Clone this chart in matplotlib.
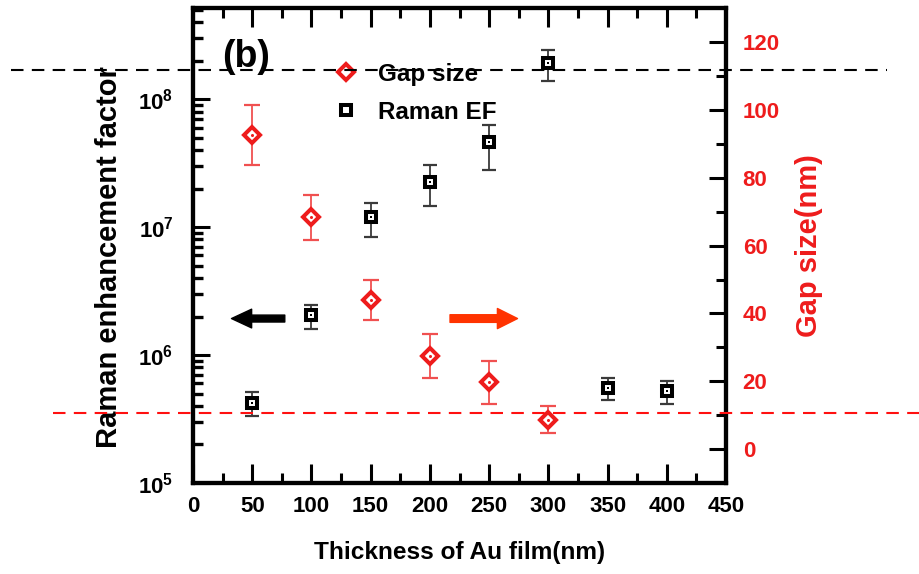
import matplotlib
matplotlib.use("Agg")
import matplotlib.pyplot as plt
from matplotlib import font_manager
from matplotlib.lines import Line2D
from matplotlib.ticker import FixedLocator, MultipleLocator, LogLocator, NullFormatter, FuncFormatter
import numpy as np

# ---- data -------------------------------------------------------------
thickness = [50, 100, 150, 200, 250, 300, 350, 400]
raman_ef = [4.25e5, 2.06e6, 1.19e7, 2.27e7, 4.61e7, 1.91e8, 5.56e5, 5.24e5]
raman_ef_low = [3.34e5, 1.60e6, 8.43e6, 1.47e7, 2.80e7, 1.39e8, 4.46e5, 4.15e5]
raman_ef_high = [5.17e5, 2.47e6, 1.54e7, 3.06e7, 6.30e7, 2.43e8, 6.65e5, 6.27e5]

gap_thickness = [50, 100, 150, 200, 250, 300]
gap_size = [92.6, 68.4, 44.1, 27.4, 19.7, 8.7]
gap_err = [8.8, 6.6, 5.9, 6.4, 6.4, 4.1]

x_ticks = [0, 50, 100, 150, 200, 250, 300, 350, 400, 450]
gap_ticks = [0, 20, 40, 60, 80, 100, 120]
ef_decades = [1e5, 1e6, 1e7, 1e8]

# ---- fonts ------------------------------------------------------------
installed = {f.name for f in font_manager.fontManager.ttflist}
REG = "Liberation Sans" if "Liberation Sans" in installed else "DejaVu Sans"
NARROW = "Liberation Sans Narrow" if "Liberation Sans Narrow" in installed else REG
plt.rcParams["font.family"] = [NARROW]
plt.rcParams["font.weight"] = "bold"
plt.rcParams["mathtext.fontset"] = "custom"
plt.rcParams["mathtext.rm"] = f"{NARROW}:bold"
plt.rcParams["mathtext.bf"] = f"{NARROW}:bold"
plt.rcParams["mathtext.default"] = "bf"

RED = "#EE1C1C"
RED_BAR = "#F05050"
BLACK_BAR = "#3a3a3a"

W, H = 919, 574
fig = plt.figure(figsize=(W / 100, H / 100), dpi=100)
ax = fig.add_axes([193 / W, (H - 483) / H, (726 - 193) / W, (483 - 8.3) / H])
ax2 = ax.twinx()

for a in (ax, ax2):
    for s in a.spines.values():
        s.set_linewidth(3.0)

# ---- x axis ----------------------------------------------------------
ax.set_xlim(0, 450)
ax.xaxis.set_major_locator(FixedLocator(x_ticks))
ax.xaxis.set_minor_locator(MultipleLocator(25))
ax.tick_params(axis="x", which="major", direction="in", length=13.5, width=2.2,
               top=True, bottom=True, labelsize=16, pad=9)
ax.tick_params(axis="x", which="minor", direction="in", length=7, width=2.2,
               top=True, bottom=True)
ax.set_xlabel("Thickness of Au film(nm)", fontsize=17.6, family=REG,
              fontweight="bold", labelpad=18)

# ---- left (log) axis --------------------------------------------------
ax.set_yscale("log")
ax.set_ylim(1e5, 10 ** 8.71)
ax.yaxis.set_major_locator(FixedLocator(ef_decades))
ax.yaxis.set_minor_locator(LogLocator(base=10, subs=np.arange(2, 10)))
ax.yaxis.set_minor_formatter(NullFormatter())
ax.yaxis.set_major_formatter(FuncFormatter(lambda v, p: r"$10^{%d}$" % round(np.log10(v))))
ax.tick_params(axis="y", which="major", direction="in", length=12.5, width=2.2,
               left=True, right=False, labelsize=16, pad=14)
ax.tick_params(axis="y", which="minor", direction="in", length=7.5, width=2.4,
               left=True, right=False)
ax.set_ylabel("Raman enhancement factor", fontsize=21, family=REG,
              fontweight="bold")
ax.yaxis.set_label_coords(-0.131, 0.476)

# ---- right (gap size) axis -------------------------------------------
ax2.set_ylim(-10, 130)
ax2.yaxis.set_major_locator(FixedLocator(gap_ticks))
ax2.yaxis.set_minor_locator(FixedLocator([10, 30, 50, 70, 90, 110]))
ax2.tick_params(axis="y", which="major", direction="in", length=12.5, width=2.2,
                right=True, left=False, labelsize=16, labelcolor=RED, pad=12)
ax2.tick_params(axis="y", which="minor", direction="in", length=7, width=2.2,
                right=True, left=False)
ax2.set_ylabel("Gap size(nm)", fontsize=21, family=REG, fontweight="bold",
               color=RED, labelpad=11)

# ---- Raman EF (left axis) --------------------------------------------
ef = np.array(raman_ef)
ef_err = [ef - np.array(raman_ef_low), np.array(raman_ef_high) - ef]
ax.errorbar(thickness, ef, yerr=ef_err, fmt="none", ecolor=BLACK_BAR,
            elinewidth=1.3, capsize=5, capthick=1.6, zorder=2)
ax.plot(thickness, ef, ls="none", marker="s", ms=7.5, mew=2.9, mec="black",
        mfc="white", zorder=3, label="Raman EF")
ax.plot(thickness, ef, ls="none", marker="s", ms=1.8, mew=0, mfc="black", zorder=4)

# ---- gap size (right axis) -------------------------------------------
ax2.errorbar(gap_thickness, gap_size, yerr=gap_err, fmt="none", ecolor=RED_BAR,
             elinewidth=1.3, capsize=6, capthick=1.6, zorder=2)
ax2.plot(gap_thickness, gap_size, ls="none", marker="D", ms=8, mew=2.9, mec=RED,
         mfc="white", zorder=3, label="Gap size")
ax2.plot(gap_thickness, gap_size, ls="none", marker="o", ms=2.2, mew=0, mfc=RED, zorder=4)

# ---- direction arrows -------------------------------------------------
ax2.annotate("", xy=(32.5, 38.5), xytext=(77.5, 38.5),
             arrowprops=dict(arrowstyle="simple,head_length=1.45,head_width=1.35,tail_width=0.5",
                             mutation_scale=10, color="black", shrinkA=0, shrinkB=0))
ax2.annotate("", xy=(274, 38.5), xytext=(217, 38.5),
             arrowprops=dict(arrowstyle="simple,head_length=1.45,head_width=1.45,tail_width=0.55",
                             mutation_scale=10, color="#FF3300", shrinkA=0, shrinkB=0))

# ---- panel tag and legend --------------------------------------------
ax.text(0.055, 0.936, "(b)", transform=ax.transAxes, fontsize=27, family=REG,
        fontweight="bold", ha="left", va="top")

h_gap = Line2D([], [], ls="none", marker="D", ms=8, mew=2.9, mec=RED, mfc="white")
h_ef = Line2D([], [], ls="none", marker="s", ms=7, mew=2.9, mec="black", mfc="white")
ax2.legend([h_gap, h_ef], ["Gap size", "Raman EF"], loc="upper left",
           bbox_to_anchor=(334 / W, 1 - 63 / H), bbox_transform=fig.transFigure,
           frameon=False, handlelength=1.0, handletextpad=0.8, borderpad=0,
           borderaxespad=0, labelspacing=0.6,
           prop={"family": REG, "weight": "bold", "size": 17.5})

# ---- horizontal dashed guide lines across the figure -----------------
fig.add_artist(Line2D([11 / W, 887 / W], [1 - 70 / H, 1 - 70 / H], transform=fig.transFigure,
                      color="black", lw=1.5, ls=(0, (6, 4)), zorder=10))
fig.add_artist(Line2D([53 / W, 1.0], [1 - 413 / H, 1 - 413 / H], transform=fig.transFigure,
                      color="#FF1010", lw=1.5, ls=(0, (6, 4)), zorder=10))

fig.savefig("out.png", dpi=100)
